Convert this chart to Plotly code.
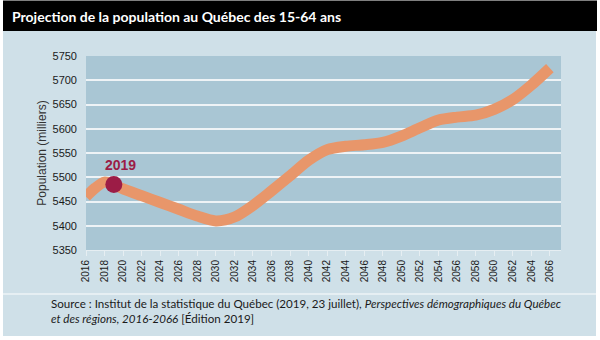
import plotly.graph_objects as go

# Projected population aged 15-64 in Québec (thousands)
years = [2016, 2017, 2018, 2019, 2020, 2022, 2024, 2026, 2028, 2030, 2032, 2034,
         2036, 2038, 2040, 2042, 2044, 2046, 2048, 2050, 2052, 2054, 2056, 2058,
         2060, 2062, 2064, 2066]
population = [5460, 5478, 5490, 5485, 5476, 5462, 5448, 5434, 5420, 5410, 5418, 5442,
              5472, 5503, 5535, 5557, 5564, 5567, 5572, 5585, 5602, 5618, 5624, 5628,
              5640, 5660, 5690, 5725]

highlight_year = 2019
highlight_value = 5485

tick_years = list(range(2016, 2067, 2))
y_ticks = list(range(5350, 5751, 50))

title_text = "Projection de la population au Québec des 15-64 ans"
y_title = "Population (milliers)"
source_text = ("Source : Institut de la statistique du Québec (2019, 23 juillet), "
               "<i>Perspectives démographiques du Québec</i><br>"
               "<i>et des régions, 2016-2066</i> [Édition 2019]")

W, H = 600, 340
L, R, T, B = 86, 561, 56, 250  # plot area in pixels


def px(x):
    return (x - L) / (R - L)


def py(y):
    return (B - y) / (B - T)


PANEL = "#cfe0e8"
PLOT_BG = "#a9c6d4"
ORANGE = "#e8966a"
WINE = "#9c1c46"

fig = go.Figure()

fig.add_trace(go.Scatter(
    x=years, y=population, mode="lines",
    line=dict(color=ORANGE, width=11, shape="spline", smoothing=0.8),
    hoverinfo="skip", showlegend=False,
))
fig.add_trace(go.Scatter(
    x=[highlight_year], y=[highlight_value], mode="markers",
    marker=dict(color=WINE, size=17),
    showlegend=False,
))

fig.add_annotation(
    x=highlight_year, y=highlight_value, text="<b>2019</b>",
    showarrow=False, yshift=20, xshift=7,
    font=dict(family="Liberation Sans", size=14, color=WINE),
)

shapes = [
    # outer panel
    dict(type="rect", xref="paper", yref="paper", x0=px(3), x1=px(596), y0=py(336), y1=py(31),
         fillcolor=PANEL, line_width=0, layer="below"),
    # header band
    dict(type="rect", xref="paper", yref="paper", x0=px(3), x1=px(597), y0=py(31), y1=py(0.5),
         fillcolor="#000000", line_width=0, layer="below"),
    # plot area
    dict(type="rect", xref="paper", yref="paper", x0=0, x1=1, y0=0, y1=1,
         fillcolor=PLOT_BG, line_width=0, layer="below"),
    # separator above the source note
    dict(type="line", xref="paper", yref="paper", x0=px(3), x1=px(596), y0=py(294), y1=py(294),
         line=dict(color="#eef4f7", width=1.5), layer="below"),
]

fig.add_annotation(
    xref="paper", yref="paper", x=px(10), y=py(16), xanchor="left", yanchor="middle",
    text="<b>" + title_text + "</b>", showarrow=False,
    font=dict(family="Lato", size=14, color="white"),
)
fig.add_annotation(
    xref="paper", yref="paper", x=px(49), y=py(295), xanchor="left", yanchor="top",
    text=source_text, showarrow=False, align="left",
    font=dict(family="Lato", size=11.6, color="#1a1a1a"),
)

fig.update_layout(
    width=W, height=H,
    margin=dict(l=L, r=W - R, t=T, b=H - B, pad=0),
    paper_bgcolor="white", plot_bgcolor="rgba(0,0,0,0)",
    shapes=shapes,
    xaxis=dict(
        range=[2016, 2067.2], tickmode="array", tickvals=tick_years,
        ticktext=[str(t) for t in tick_years], tickangle=-90,
        showgrid=False, zeroline=False,
        showline=True, linecolor="#e6eef2", linewidth=1,
        ticks="outside", ticklen=5, tickcolor="#e6eef2",
        tickfont=dict(family="Liberation Sans", size=10, color="#1a1a1a"),
    ),
    yaxis=dict(
        range=[5350, 5750], tickmode="array", tickvals=y_ticks,
        showgrid=True, gridcolor="#eef3f6", gridwidth=1.5, zeroline=False,
        ticks="", ticklabelstandoff=8,
        tickfont=dict(family="Liberation Sans", size=11, color="#1a1a1a"),
        title=dict(text=y_title, standoff=3,
                   font=dict(family="Liberation Sans", size=12, color="#333333")),
    ),
)

fig.write_html("out.html")
